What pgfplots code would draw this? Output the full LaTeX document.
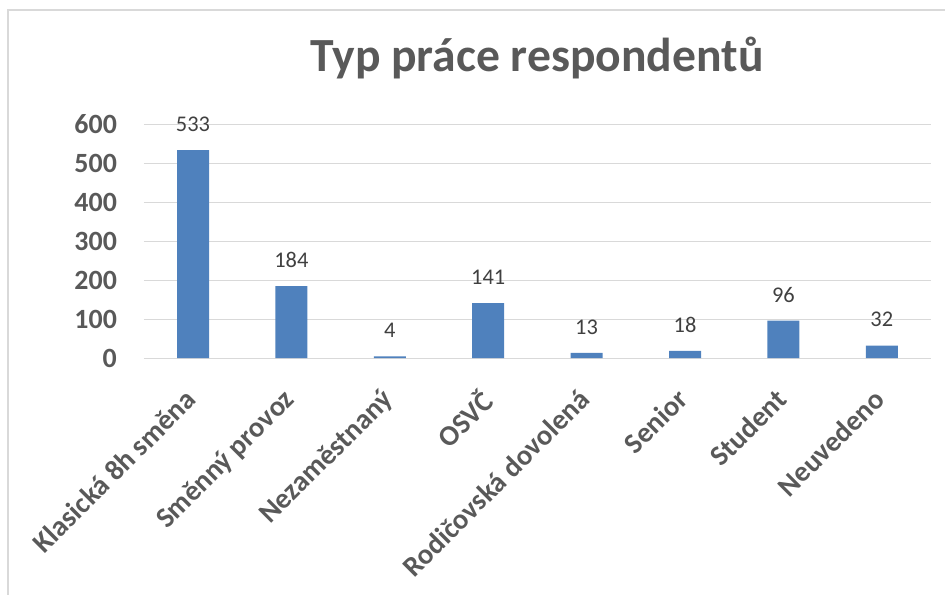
\documentclass[border=0pt]{standalone}
\usepackage{pgfplots}
\pgfplotsset{compat=1.18}
\usepackage{fontspec}
\setmainfont{Carlito}
\definecolor{barblue}{HTML}{4F81BD}
\definecolor{txtgray}{HTML}{595959}
\definecolor{lblgray}{HTML}{404040}
\definecolor{gridgray}{HTML}{D9D9D9}
\begin{document}
\begin{tikzpicture}[x=0.75pt,y=0.75pt]
\useasboundingbox (0,0) rectangle (945,594);
\begin{scope}
\clip (0,0) rectangle (945,594);
\draw[gridgray, line width=1pt] (8,-20) rectangle (980,584);
\end{scope}
\node[anchor=base, font=\fontsize{35.7}{40}\selectfont\bfseries, text=txtgray] at (537,522) {Typ práce respondentů};
\begin{axis}[
  at={(107.85pt,177pt)}, anchor=south west,
  scale only axis, width=590.4pt, height=175.5pt,
  ymin=0, ymax=600, ytick={0,100,...,600},
  xmin=-0.5, xmax=7.5, xtick={0,...,7},
  xticklabels={Klasická 8h směna, Směnný provoz, Nezaměstnaný, OSVČ, Rodičovská dovolená, Senior, Student, Neuvedeno},
  ymajorgrids, grid style={gridgray, line width=0.75pt},
  axis x line*=bottom, axis y line*=left,
  axis line style={-},
  y axis line style={draw=none},
  x axis line style={gridgray, line width=0.75pt},
  major tick length=0pt,
  /pgf/number format/assume math mode=true,
  yticklabel style={font=\fontsize{20.9}{24}\selectfont\bfseries, text=txtgray, anchor=east, inner sep=0pt, xshift=-20pt},
  xticklabel style={font=\fontsize{21.5}{24}\selectfont\bfseries, text=txtgray, rotate=45, anchor=north east, inner sep=0pt, xshift=-20.4pt, yshift=-10.2pt},
  ybar, bar width=24pt,
  nodes near coords,
  every node near coord/.append style={font=\fontsize{16.8}{20}\selectfont, text=lblgray, anchor=base, inner sep=0pt, yshift=13.9pt},
]
\addplot[fill=barblue, draw=none] coordinates {(0,533) (1,184) (2,4) (3,141) (4,13) (5,18) (6,96) (7,32)};
\end{axis}
\end{tikzpicture}
\end{document}
